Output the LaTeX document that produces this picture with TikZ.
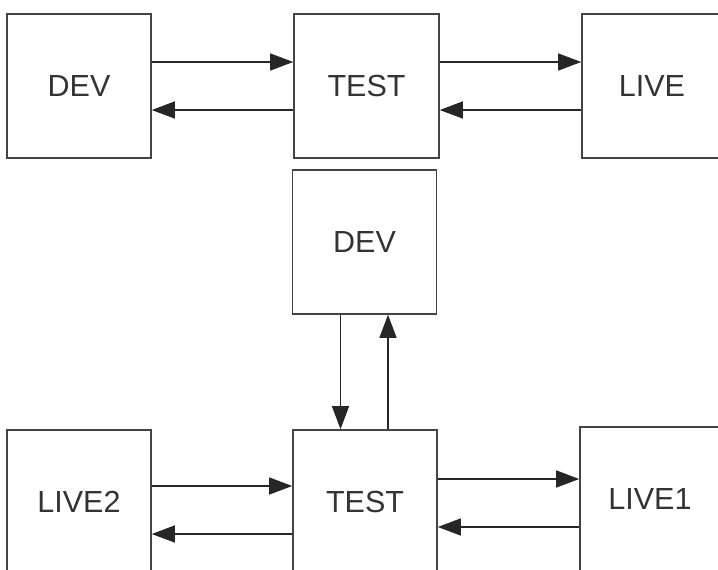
\documentclass[tikz,border=0pt]{standalone}
\usepackage{fontspec}
\setmainfont{Liberation Sans}
\usetikzlibrary{arrows.meta}
\definecolor{boxline}{HTML}{444444}
\definecolor{txt}{HTML}{333333}
\begin{document}
\begin{tikzpicture}[x=1pt,y=-1pt,
  envbox/.style={draw=boxline,line width=1.6pt,rectangle,inner sep=0pt,
    minimum width=144pt,minimum height=144pt,text=txt,
    font=\fontsize{30.5}{36}\selectfont},
  link/.style={draw=black!85,line width=1.3pt,-{Triangle[length=23pt,width=17pt]}}]
\useasboundingbox (0,0) rectangle (718,570);
\clip (0,0) rectangle (718,570);
\fill[white] (0,0) rectangle (718,570);
% top row
\node[envbox] (devA) at (79,86) {DEV};
\node[envbox,minimum width=145pt] (testA) at (366.5,86) {TEST};
\node[envbox,minimum width=140pt] (liveA) at (652,86) {LIVE};
% middle dev
\node[envbox] (devB) at (364.5,242) {DEV};
% bottom row
\node[envbox] (live2) at (79,502) {LIVE2};
\node[envbox] (testB) at (365,502) {TEST};
\node[envbox,minimum width=140pt] (live1) at (650,499) {LIVE1};
% top arrows
\draw[link] ([yshift=24pt]devA.east) -- ([yshift=24pt]devA.east -| testA.west);
\draw[link] ([yshift=-24pt]testA.west) -- ([yshift=-24pt]testA.west -| devA.east);
\draw[link] ([yshift=24pt]testA.east) -- ([yshift=24pt]testA.east -| liveA.west);
\draw[link] ([yshift=-24pt]liveA.west) -- ([yshift=-24pt]liveA.west -| testA.east);
% vertical arrows
\draw[link] ([xshift=-24pt]devB.south) -- ([xshift=-24pt]devB.south |- testB.north);
\draw[link] ([xshift=23.5pt]devB.south |- testB.north) -- ([xshift=23.5pt]devB.south);
% bottom arrows
\draw[link] ([yshift=16pt]live2.east) -- ([yshift=16pt]live2.east -| testB.west);
\draw[link] ([yshift=-32pt]testB.west) -- ([yshift=-32pt]testB.west -| live2.east);
\draw[link] ([yshift=20pt]live1.west -| testB.east) -- ([yshift=20pt]live1.west);
\draw[link] ([yshift=-28pt]live1.west) -- ([yshift=-28pt]live1.west -| testB.east);
\end{tikzpicture}
\end{document}
